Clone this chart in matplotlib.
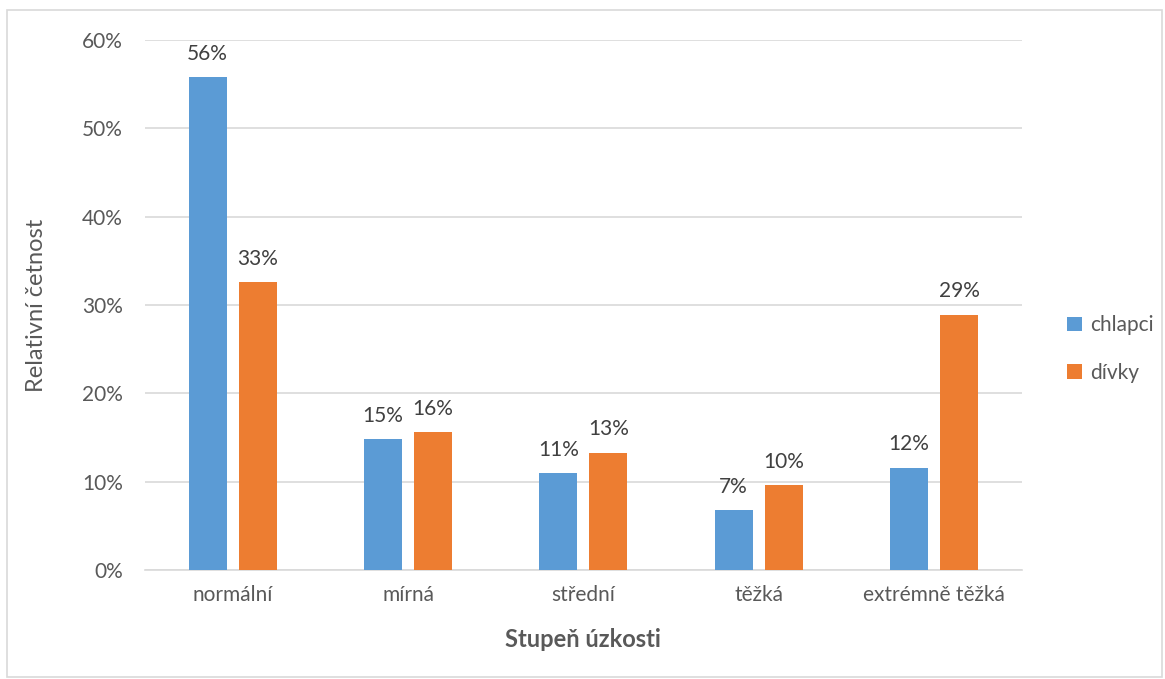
import numpy as np
import matplotlib.pyplot as plt
from matplotlib.patches import Rectangle

# data
categories = ["normální", "mírná", "střední", "těžká", "extrémně těžká"]
chlapci = [0.558, 0.148, 0.110, 0.068, 0.116]
divky = [0.326, 0.156, 0.133, 0.096, 0.289]
yticks = [0, 0.1, 0.2, 0.3, 0.4, 0.5, 0.6]

plt.rcParams['font.family'] = ['Lato', 'DejaVu Sans']
text_col = "#595959"
blue = "#5B9BD5"
orange = "#ED7D31"

fig = plt.figure(figsize=(11.65, 6.79), dpi=100)
ax = fig.add_axes([0.1245, 0.1605, 0.7525, 0.7805])

x = np.arange(len(categories))
w = 0.217
off = 0.143
b1 = ax.bar(x - off, chlapci, w, color=blue, label="chlapci", zorder=3)
b2 = ax.bar(x + off, divky, w, color=orange, label="dívky", zorder=3)

for bars, vals in [(b1, chlapci), (b2, divky)]:
    for rect, v in zip(bars, vals):
        ax.annotate(f"{v*100:.0f}%", (rect.get_x() + rect.get_width() / 2, v),
                    xytext=(0, 12.5), textcoords="offset points",
                    ha="center", va="baseline", fontsize=15, color="#404040")

ax.set_xlim(-0.5, len(categories) - 0.5)
ax.set_ylim(0, 0.6)
ax.set_yticks(yticks)
ax.set_yticklabels([f"{t*100:.0f}%" for t in yticks], fontsize=15, color=text_col)
ax.set_xticks(x)
ax.set_xticklabels(categories, fontsize=15, color=text_col)
ax.tick_params(length=0)
ax.tick_params(axis="y", pad=16)
ax.tick_params(axis="x", pad=11)
ax.grid(axis="y", color="#D9D9D9", linewidth=1.2, zorder=0)
for s in ["top", "right", "left"]:
    ax.spines[s].set_visible(False)
ax.spines["bottom"].set_color("#D9D9D9")
ax.spines["bottom"].set_linewidth(1.2)

ax.set_ylabel("Relativní četnost", fontsize=17, color=text_col, labelpad=25)
ax.set_xlabel("Stupeň úzkosti", fontsize=17, color=text_col, fontweight="bold", labelpad=16)

leg = fig.legend(loc="center left", bbox_to_anchor=(0.9, 0.486), frameon=False,
                 fontsize=15, handlelength=0.7, handleheight=0.7,
                 handletextpad=0.4, labelspacing=1.3)
for t in leg.get_texts():
    t.set_color(text_col)

fig.patches.append(Rectangle((0.006, 0.003), 0.991, 0.982, transform=fig.transFigure,
                             fill=False, edgecolor="#D9D9D9", linewidth=1.2))

fig.savefig("out.png", dpi=100)
